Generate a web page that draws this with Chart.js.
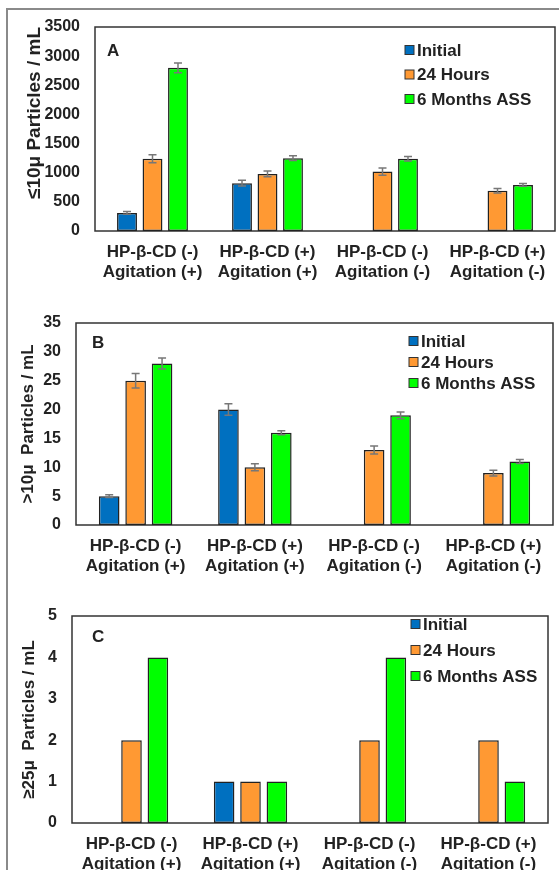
<!DOCTYPE html>
<html>
<head>
<meta charset="utf-8">
<script src="https://cdn.jsdelivr.net/npm/chart.js@4.4.1/dist/chart.umd.min.js"></script>
<style>
  html, body { margin: 0; padding: 0; background: #fff; overflow: hidden; }
  body { width: 559px; height: 870px; position: relative; }
  .frame { position: absolute; left: 6px; top: 8px; width: 560px; height: 900px;
           border-top: 2px solid #8a8a8a; border-left: 2px solid #8a8a8a; }
  canvas { position: absolute; left: 0; }
</style>
</head>
<body>
<div class="frame"></div>
<canvas id="chartA" width="559" height="290" style="top:0px"></canvas>
<canvas id="chartB" width="559" height="290" style="top:290px"></canvas>
<canvas id="chartC" width="559" height="300" style="top:580px"></canvas>
<script>
// --- Data ---
const categories = [
    ['HP-β-CD (-)', 'Agitation (+)'],
    ['HP-β-CD (+)', 'Agitation (+)'],
    ['HP-β-CD (-)', 'Agitation (-)'],
    ['HP-β-CD (+)', 'Agitation (-)']
];
const seriesNames = ['Initial', '24 Hours', '6 Months ASS'];
const seriesColors = ['#0070C0', '#FF9933', '#00FF00'];

// panel A: <=10 micron
const initialA = [310, 820, null, null];
const hoursA = [1240, 980, 1020, 690];
const monthsA = [2800, 1250, 1240, 790];
const initialErrA = [23, 49, 0, 0];
const hoursErrA = [69, 51, 63, 40];
const monthsErrA = [83, 40, 37, 23];

// panel B: >10 micron
const initialB = [5, 20, null, null];
const hoursB = [25, 10, 13, 9];
const monthsB = [28, 16, 19, 11];
const initialErrB = [0.25, 1.0, 0, 0];
const hoursErrB = [1.25, 0.6, 0.7, 0.5];
const monthsErrB = [0.95, 0.35, 0.6, 0.35];

// panel C: >=25 micron (no error bars)
const initialC = [null, 1, null, null];
const hoursC = [2, 1, 2, 2];
const monthsC = [4, 1, 4, 1];

const FONT = "'Liberation Sans', Arial, sans-serif";
const TEXT = '#222';

// draws the plot box, the panel letter and the legend inside the plot area
const panelDecor = {
    id: 'panelDecor',
    beforeDatasetsDraw(chart, args, opts) {
        const { ctx, chartArea: a } = chart;
        ctx.save();
        ctx.strokeStyle = '#333';
        ctx.lineWidth = 1.5;
        ctx.strokeRect(a.left, a.top, a.right - a.left, a.bottom - a.top);
        ctx.restore();
    },
    afterDraw(chart, args, opts) {
        const { ctx, chartArea: a } = chart;
        ctx.save();
        ctx.fillStyle = TEXT;
        ctx.textBaseline = 'middle';
        ctx.textAlign = 'left';
        ctx.font = 'bold 17px ' + FONT;
        ctx.fillText(opts.letter, a.left + opts.letterX, a.top + opts.letterY);

        // legend
        const x0 = a.right - opts.legendX;
        chart.data.datasets.forEach((ds, i) => {
            const y = a.top + opts.legendY + i * opts.legendGap;
            ctx.fillStyle = ds.backgroundColor;
            ctx.fillRect(x0, y - 4.5, 9, 9);
            ctx.strokeStyle = '#333';
            ctx.lineWidth = 1;
            ctx.strokeRect(x0, y - 4.5, 9, 9);
            ctx.fillStyle = TEXT;
            ctx.fillText(ds.label, x0 + 12, y + 1);
        });
        ctx.restore();
    }
};

// error bars, placed through the y scale
const errorBars = {
    id: 'errorBars',
    afterDatasetsDraw(chart) {
        const { ctx } = chart;
        const yScale = chart.scales.y;
        ctx.save();
        ctx.strokeStyle = '#777';
        ctx.lineWidth = 1.5;
        chart.data.datasets.forEach((ds, di) => {
            if (!ds.errors) return;
            const meta = chart.getDatasetMeta(di);
            meta.data.forEach((bar, i) => {
                const v = ds.data[i];
                const e = ds.errors[i];
                if (v == null || !e) return;
                const yTop = yScale.getPixelForValue(v + e);
                const yBot = yScale.getPixelForValue(v - e);
                ctx.beginPath();
                ctx.moveTo(bar.x, yTop); ctx.lineTo(bar.x, yBot);
                ctx.moveTo(bar.x - 4, yTop); ctx.lineTo(bar.x + 4, yTop);
                ctx.moveTo(bar.x - 4, yBot); ctx.lineTo(bar.x + 4, yBot);
                ctx.stroke();
            });
        });
        ctx.restore();
    }
};

const makeChart = (id, series, errors, y, layout, decor) => {
    const ctx = document.querySelector(id).getContext('2d');
    return new Chart(ctx, {
        type: 'bar',
        data: {
            labels: categories,
            datasets: series.map((values, i) => ({
                label: seriesNames[i],
                data: values,
                errors: errors ? errors[i] : null,
                backgroundColor: seriesColors[i],
                borderColor: '#222',
                borderWidth: 1.5,
                borderSkipped: false,
                categoryPercentage: 0.665,
                barPercentage: 0.78
            }))
        },
        options: {
            responsive: false,
            animation: false,
            layout: { padding: layout.padding },
            plugins: {
                legend: { display: false },
                tooltip: { enabled: false },
                panelDecor: decor
            },
            scales: {
                x: {
                    grid: { display: false, drawTicks: false },
                    border: { display: false },
                    ticks: {
                        color: TEXT,
                        font: { family: FONT, size: 17, weight: 'bold', lineHeight: 1.15 },
                        padding: 12,
                        maxRotation: 0,
                        autoSkip: false
                    },
                    afterFit: axis => { axis.height = layout.xHeight; }
                },
                y: {
                    min: 0,
                    max: y.max,
                    grid: { display: false, drawTicks: false },
                    border: { display: false },
                    ticks: {
                        stepSize: y.step,
                        format: { useGrouping: false },
                        color: TEXT,
                        font: { family: FONT, size: 16, weight: 'bold' },
                        padding: 15
                    },
                    title: {
                        display: true,
                        text: y.title,
                        align: y.titleAlign,
                        color: TEXT,
                        font: { family: FONT, size: y.titleSize, weight: 'bold' },
                        padding: { top: layout.titlePad, bottom: 0 }
                    },
                    afterFit: axis => { axis.width = layout.yWidth; }
                }
            }
        },
        plugins: [panelDecor, errorBars]
    });
};

makeChart('#chartA',
    [initialA, hoursA, monthsA],
    [initialErrA, hoursErrA, monthsErrA],
    { max: 3500, step: 500, title: '≤10μ Particles / mL', titleSize: 19, titleAlign: 'end' },
    { padding: { left: 10, top: 27, right: 4, bottom: 0 }, yWidth: 85, xHeight: 59, titlePad: 13 },
    { letter: 'A', letterX: 12, letterY: 24, legendX: 150, legendY: 23, legendGap: 24.5 });

makeChart('#chartB',
    [initialB, hoursB, monthsB],
    [initialErrB, hoursErrB, monthsErrB],
    { max: 35, step: 5, title: '>10μ  Particles / mL', titleSize: 17, titleAlign: 'center' },
    { padding: { left: 10, top: 33, right: 6, bottom: 0 }, yWidth: 66, xHeight: 55, titlePad: 8 },
    { letter: 'B', letterX: 16, letterY: 20, legendX: 144, legendY: 18, legendGap: 21 });

makeChart('#chartC',
    [initialC, hoursC, monthsC],
    null,
    { max: 5, step: 1, title: '≥25μ  Particles / mL', titleSize: 17, titleAlign: 'center' },
    { padding: { left: 10, top: 36, right: 11, bottom: 0 }, yWidth: 62, xHeight: 57, titlePad: 9 },
    { letter: 'C', letterX: 20, letterY: 21, legendX: 137, legendY: 8, legendGap: 26 });
</script>
</body>
</html>
